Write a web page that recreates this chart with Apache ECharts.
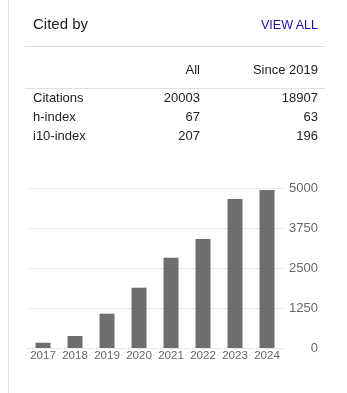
<!DOCTYPE html>
<html>
<head>
<meta charset="utf-8">
<script src="https://cdn.jsdelivr.net/npm/echarts@6/dist/echarts.min.js"></script>
<style>
  html, body { margin: 0; padding: 0; background: #fff; }
  body { width: 347px; height: 393px; position: relative; overflow: hidden;
         font-family: Arial, "Liberation Sans", sans-serif; color: #222; }
  #chart { position: absolute; left: 0; top: 0; width: 347px; height: 393px; }
  .t { position: absolute; white-space: nowrap; }
  .hr { position: absolute; left: 25px; width: 300px; height: 1px; background: #e0e0e0; }
  #border { position: absolute; left: 8px; top: 0; width: 1px; height: 393px; background: #e0e0e0; }
</style>
</head>
<body>
<div id="chart"></div>
<div id="border"></div>
<div id="panel"></div>
<script>
// table values
var columns = ["All", "Since 2019"];
var rowNames = ["Citations", "h-index", "i10-index"];
var allValues = [20003, 67, 207];
var sinceValues = [18907, 63, 196];

// chart values
var years = ["2017", "2018", "2019", "2020", "2021", "2022", "2023", "2024"];
var citations = [165, 375, 1072, 1885, 2822, 3406, 4656, 4937];
var yTicks = [0, 1250, 2500, 3750, 5000];

(function buildPanel() {
    var panel = document.getElementById("panel");

    function text(str, left, right, center, size, extra) {
        var d = document.createElement("div");
        d.className = "t";
        d.textContent = str;
        d.style.fontSize = size + "px";
        d.style.lineHeight = "20px";
        d.style.top = (center - 10) + "px";
        if (left != null) {
            d.style.left = left + "px";
        } else {
            d.style.right = (347 - right) + "px";
        }
        if (extra) {
            for (var k in extra) {
                d.style[k] = extra[k];
            }
        }
        panel.appendChild(d);
    }

    function line(y) {
        var d = document.createElement("div");
        d.className = "hr";
        d.style.top = y + "px";
        panel.appendChild(d);
    }

    text("Cited by", 33, null, 24, 15);
    text("VIEW ALL", null, 318, 24.5, 12.5, { color: "#1a0dab" });
    line(46);
    text(columns[0], null, 200, 70, 13);
    text(columns[1], null, 318, 70, 13);
    line(88);

    var centers = [98, 117, 136];
    for (var i = 0; i < rowNames.length; i++) {
        text(rowNames[i], 33, null, centers[i], 13);
        text(String(allValues[i]), null, 200, centers[i], 13);
        text(String(sinceValues[i]), null, 318, centers[i], 13);
    }
})();

(function drawChart() {
    var chart = echarts.init(document.getElementById("chart"), null, { renderer: "canvas" });

    chart.setOption({
        animation: false,
        grid: { left: 27, top: 188, width: 256, height: 160, containLabel: false },
        xAxis: {
            type: "category",
            data: years,
            axisLine: { show: true, lineStyle: { color: "#e6e6e6" } },
            axisTick: { show: false },
            axisLabel: { color: "#666", fontSize: 11.5, margin: 2, interval: 0,
                         hideOverlap: false,
                         fontFamily: "Arial, 'Liberation Sans', sans-serif" }
        },
        yAxis: {
            type: "value",
            position: "right",
            min: yTicks[0],
            max: yTicks[yTicks.length - 1],
            interval: yTicks[1] - yTicks[0],
            axisLine: { show: false },
            axisTick: { show: false },
            splitLine: { lineStyle: { color: "#e6e6e6" } },
            axisLabel: { color: "#666", fontSize: 13, margin: 35, align: "right",
                         formatter: function(v) { return String(v); },
                         fontFamily: "Arial, 'Liberation Sans', sans-serif" }
        },
        series: [{
            type: "bar",
            data: citations,
            barWidth: 15,
            itemStyle: { color: "#6f6f6f" }
        }]
    });
})();
</script>
</body>
</html>
